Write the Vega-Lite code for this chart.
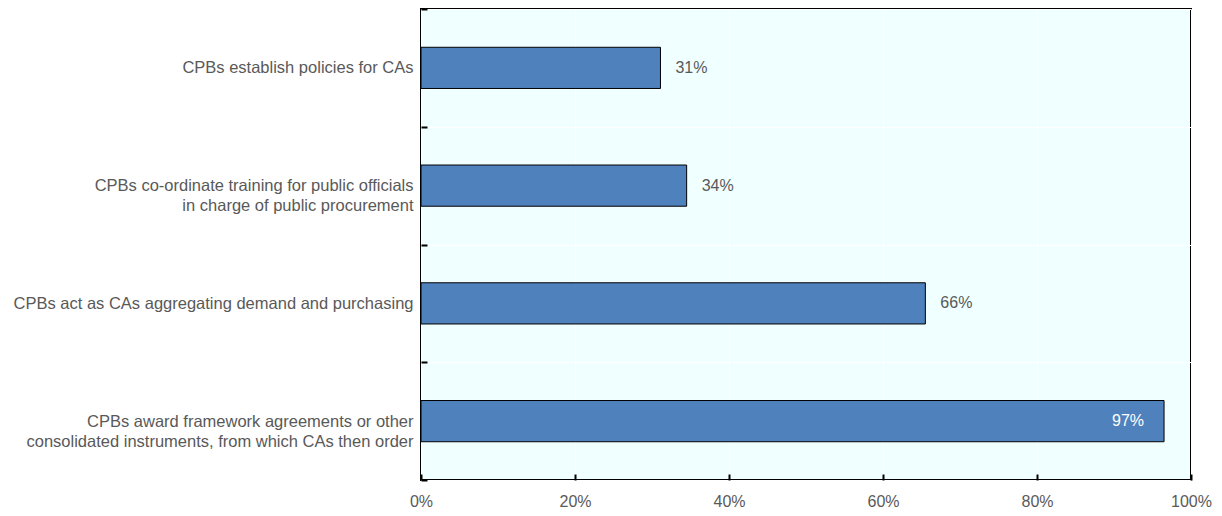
{
  "$schema": "https://vega.github.io/schema/vega-lite/v6.json",
  "autosize": "none",
  "width": 770,
  "height": 471,
  "padding": {"left": 421, "top": 9, "right": 31, "bottom": 36},
  "background": "white",
  "config": {
    "font": "Liberation Sans",
    "view": {"fill": "#F0FFFF", "stroke": "black", "strokeWidth": 2},
    "axis": {"labelFont": "Liberation Sans", "labelColor": "#595959", "title": null}
  },
  "data": {
    "values": [
      {"cat": "CPBs establish policies for CAs", "value": 0.311, "label": "31%"},
      {"cat": "CPBs co-ordinate training for public officials\nin charge of public procurement", "value": 0.345, "label": "34%"},
      {"cat": "CPBs act as CAs aggregating demand and purchasing", "value": 0.655, "label": "66%"},
      {"cat": "CPBs award framework agreements or other\nconsolidated instruments, from which CAs then order", "value": 0.965, "label": "97%"}
    ]
  },
  "encoding": {
    "y": {
      "field": "cat", "type": "nominal", "sort": null,
      "scale": {"paddingInner": 0, "paddingOuter": 0},
      "axis": {
        "domain": false, "tickBand": "extent", "ticks": true, "tickSize": -6, "tickWidth": 2, "tickColor": "black",
        "grid": true, "gridColor": "white", "gridWidth": 1,
        "labelFontSize": 16.5, "labelExpr": "split(datum.label, '\\n')",
        "labelPadding": 14, "labelLimit": 450, "labelLineHeight": 20, "labelAlign": "right"
      }
    }
  },
  "layer": [
    {
      "mark": {"type": "bar", "height": {"band": 0.35}, "fill": "#4F81BD", "stroke": "black", "strokeWidth": 1},
      "encoding": {
        "x": {
          "field": "value", "type": "quantitative",
          "scale": {"domain": [0, 1], "nice": false},
          "axis": {
            "values": [0, 0.2, 0.4, 0.6, 0.8, 1], "format": ".0%", "domain": false, "labelFlush": false,
            "labelFontSize": 16,
            "ticks": true, "tickSize": -6, "tickWidth": 2, "tickColor": "black",
            "grid": true, "gridColor": "white", "gridWidth": 1, "labelPadding": 19
          }
        }
      }
    },
    {
      "transform": [{"filter": "datum.value < 0.9"}],
      "mark": {"type": "text", "align": "left", "baseline": "middle", "dx": 15, "fontSize": 16, "color": "#595959", "font": "Liberation Sans"},
      "encoding": {
        "x": {"field": "value", "type": "quantitative"},
        "text": {"field": "label"}
      }
    },
    {
      "transform": [{"filter": "datum.value >= 0.9"}],
      "mark": {"type": "text", "align": "right", "baseline": "middle", "dx": -20, "fontSize": 16, "color": "white", "font": "Liberation Sans"},
      "encoding": {
        "x": {"field": "value", "type": "quantitative"},
        "text": {"field": "label"}
      }
    }
  ]
}
